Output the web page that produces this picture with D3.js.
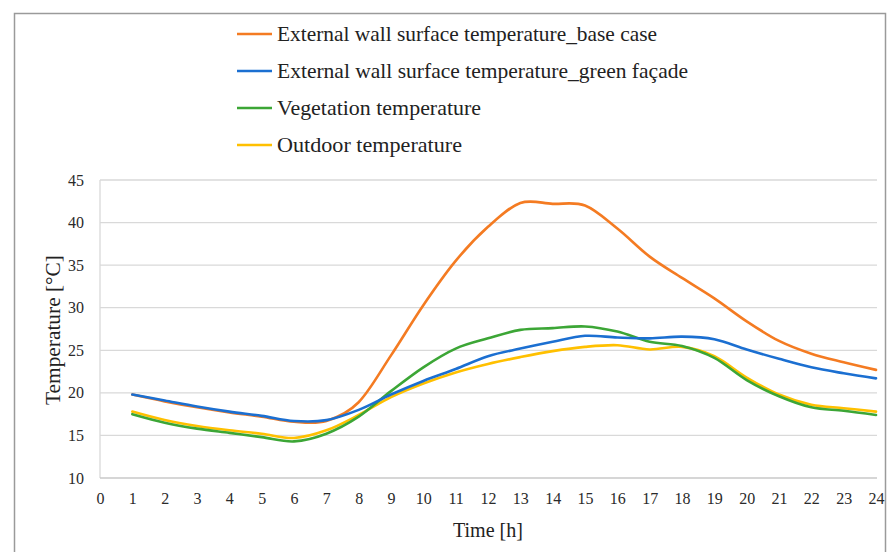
<!DOCTYPE html>
<html><head><meta charset="utf-8">
<script src="https://cdn.jsdelivr.net/npm/d3@7"></script>
<style>body{margin:0;background:#fff}svg{display:block}</style>
</head><body>
<svg id="c" width="894" height="552"></svg>
<script>
const hours = [1,2,3,4,5,6,7,8,9,10,11,12,13,14,15,16,17,18,19,20,21,22,23,24];
const baseCase = [19.8,19.0,18.3,17.7,17.2,16.6,16.7,18.9,24.4,30.3,35.5,39.5,42.3,42.2,42.0,39.3,36.0,33.5,31.1,28.4,26.1,24.6,23.6,22.7];
const greenFacade = [19.8,19.1,18.4,17.8,17.3,16.7,16.8,18.0,19.8,21.4,22.8,24.3,25.2,26.0,26.7,26.5,26.4,26.6,26.3,25.1,24.0,23.0,22.3,21.7];
const vegetation = [17.5,16.5,15.8,15.3,14.8,14.3,15.2,17.2,20.2,23.0,25.2,26.4,27.4,27.6,27.8,27.2,26.0,25.5,24.1,21.5,19.6,18.3,17.9,17.4];
const outdoor = [17.8,16.8,16.1,15.6,15.2,14.7,15.6,17.4,19.5,21.1,22.4,23.4,24.2,24.9,25.4,25.6,25.1,25.4,24.3,21.8,19.8,18.6,18.2,17.8];
const xTicks = d3.range(0,25);
const yTicks = [10,15,20,25,30,35,40,45];
const seriesNames = ["External wall surface temperature_base case","External wall surface temperature_green façade","Vegetation temperature","Outdoor temperature"];
const seriesColors = ["#F47B22","#1B6FD1","#3CA636","#FFC000"];
const seriesData = [baseCase, greenFacade, vegetation, outdoor];
const legendWidths = [380,411,204,185];

const svg = d3.select("#c");
const font = "'Liberation Serif', 'DejaVu Serif', serif";
svg.append("rect").attr("x",14.5).attr("y",13.5).attr("width",871).attr("height",600)
  .attr("fill","none").attr("stroke","#9a9a9a").attr("stroke-width",1.5);

const x = d3.scaleLinear().domain([0,24]).range([100,876]);
const y = d3.scaleLinear().domain([10,45]).range([478,180]);

// gridlines
svg.append("g").selectAll("line").data(yTicks.filter(v=>v>10)).join("line")
  .attr("x1",100).attr("x2",877).attr("y1",d=>y(d)).attr("y2",d=>y(d))
  .attr("stroke","#d9d9d9").attr("stroke-width",1.3);
// axes lines
svg.append("line").attr("x1",100).attr("x2",100).attr("y1",180).attr("y2",478).attr("stroke","#d9d9d9").attr("stroke-width",1.3);
svg.append("line").attr("x1",100).attr("x2",877).attr("y1",478).attr("y2",478).attr("stroke","#c8c8c8").attr("stroke-width",1.3);

// tick labels
const yAxis = d3.axisLeft(y).tickValues(yTicks).tickSize(0).tickPadding(16);
const gy = svg.append("g").attr("transform","translate(100,0)").call(yAxis);
gy.select(".domain").remove();
gy.selectAll("text").attr("font-family",font).attr("font-size",16).attr("fill","#2a2a2a");
const xAxis = d3.axisBottom(x).tickValues(xTicks).tickSize(0).tickPadding(15);
const gx = svg.append("g").attr("transform","translate(0,478)").call(xAxis);
gx.select(".domain").remove();
gx.selectAll("text").attr("font-family",font).attr("font-size",16).attr("fill","#2a2a2a");

// axis titles
svg.append("text").attr("transform","translate(60,330) rotate(-90)").attr("text-anchor","middle")
  .attr("font-family",font).attr("font-size",21).attr("fill","#222")
  .attr("textLength",150).attr("lengthAdjust","spacingAndGlyphs").text("Temperature [°C]");
svg.append("text").attr("x",488).attr("y",537).attr("text-anchor","middle")
  .attr("font-family",font).attr("font-size",20).attr("fill","#222")
  .attr("textLength",70).attr("lengthAdjust","spacingAndGlyphs").text("Time [h]");

// lines
const line = d3.line().x((d,i)=>x(hours[i])).y(d=>y(d)).curve(d3.curveCatmullRom.alpha(0));
const drawOrder = [0,3,2,1];
drawOrder.forEach(k=>{
  svg.append("path").datum(seriesData[k]).attr("d",line).attr("fill","none")
    .attr("stroke",seriesColors[k]).attr("stroke-width",2.6).attr("stroke-linecap","round");
});

// legend
const legY = [34,71,108,145];
seriesNames.forEach((n,i)=>{
  svg.append("line").attr("x1",237).attr("x2",272).attr("y1",legY[i]).attr("y2",legY[i])
    .attr("stroke",seriesColors[i]).attr("stroke-width",2.6);
  svg.append("text").attr("x",277).attr("y",legY[i]).attr("dy","0.35em")
    .attr("font-family",font).attr("font-size",21).attr("fill","#222")
    .attr("textLength",legendWidths[i]).attr("lengthAdjust","spacingAndGlyphs").text(n);
});
</script>
</body></html>
